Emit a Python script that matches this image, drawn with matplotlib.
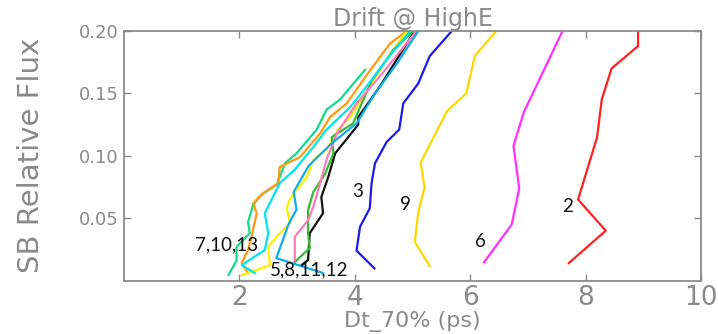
import numpy as np
import matplotlib
matplotlib.use("Agg")
import matplotlib.pyplot as plt

# curve data: (Dt_70% [ps], SB relative flux)
c2_x = [7.71, 8.35, 7.87, 8.20, 8.28, 8.45, 8.91, 8.91]
c2_y = [0.014, 0.040, 0.065, 0.115, 0.145, 0.170, 0.188, 0.200]

c6_x = [6.24, 6.72, 6.85, 6.75, 6.93, 7.60]
c6_y = [0.0146, 0.045, 0.074, 0.108, 0.135, 0.200]

c9_x = [5.30, 5.04, 5.10, 5.21, 5.14, 5.60, 5.93, 6.08, 6.45]
c9_y = [0.0116, 0.031, 0.055, 0.075, 0.0945, 0.136, 0.150, 0.180, 0.200]

c3_x = [4.34, 4.03, 4.09, 4.26, 4.29, 4.35, 4.55, 4.77, 4.84, 5.10, 5.30, 5.68]
c3_y = [0.0098, 0.024, 0.043, 0.058, 0.078, 0.094, 0.111, 0.121, 0.142, 0.158, 0.180, 0.200]

sg_x = [1.81, 1.95, 1.95, 2.18, 2.15, 2.24, 2.39, 2.65, 2.79, 2.99, 3.34, 3.51, 3.74, 4.18]
sg_y = [0.0044, 0.016, 0.027, 0.038, 0.047, 0.061, 0.069, 0.077, 0.094, 0.102, 0.121, 0.137, 0.145, 0.169]

or_x = [2.15, 2.04, 2.15, 2.21, 2.30, 2.24, 2.41, 2.67, 2.70, 3.05, 3.40, 3.57, 3.86, 4.21, 4.61, 4.90]
or_y = [0.006, 0.014, 0.0245, 0.035, 0.054, 0.062, 0.070, 0.078, 0.091, 0.099, 0.118, 0.131, 0.142, 0.165, 0.190, 0.200]

cy_x = [2.27, 2.04, 2.44, 2.50, 2.44, 2.70, 2.96, 3.28, 3.51, 3.92, 4.21, 4.55, 4.96]
cy_y = [0.006, 0.0124, 0.0245, 0.038, 0.054, 0.078, 0.089, 0.107, 0.121, 0.139, 0.156, 0.177, 0.200]

ye_x = [2.04, 2.53, 2.50, 2.70, 2.88, 2.82, 2.88, 3.17, 3.28, 3.51, 3.71, 3.92, 4.26, 4.55, 4.90]
ye_y = [0.0044, 0.0124, 0.027, 0.038, 0.046, 0.058, 0.066, 0.083, 0.097, 0.105, 0.121, 0.131, 0.156, 0.177, 0.200]

db_x = [3.45, 2.64, 2.85, 2.99, 2.94, 3.20, 3.60, 4.03, 4.35, 4.73, 5.10]
db_y = [0.006, 0.018, 0.045, 0.057, 0.071, 0.092, 0.110, 0.126, 0.150, 0.174, 0.200]

pk_x = [2.96, 2.96, 3.19, 3.28, 3.40, 3.51, 3.69, 4.03, 4.44, 5.07]
pk_y = [0.0165, 0.035, 0.0485, 0.059, 0.078, 0.097, 0.118, 0.142, 0.164, 0.200]

gr_x = [2.96, 3.22, 3.19, 3.19, 3.28, 3.48, 3.63, 3.60, 3.97, 4.29, 4.67, 5.01]
gr_y = [0.015, 0.026, 0.038, 0.0565, 0.071, 0.085, 0.102, 0.115, 0.126, 0.160, 0.185, 0.200]

bk_x = [3.08, 3.19, 3.22, 3.45, 3.42, 3.54, 3.66, 4.06, 4.06, 4.44, 5.01]
bk_y = [0.0124, 0.0165, 0.038, 0.054, 0.067, 0.083, 0.102, 0.125, 0.131, 0.156, 0.198]

labels = ["2", "6", "9", "3", "7,10,13", "5,8,11,12"]
label_x = [7.59, 6.08, 4.78, 3.95, 1.23, 2.52]
label_y = [0.059, 0.031, 0.0606, 0.071, 0.0285, 0.0084]


def main():
    gray = "#8a8a8a"
    thin = ["Liberation Sans Narrow", "DejaVu Sans"]

    fig = plt.figure(figsize=(7.18, 3.34), dpi=100)
    ax = fig.add_axes([0.1727, 0.160, 0.8036, 0.747])

    lw = 1.6
    ax.plot(c2_x, c2_y, color="#ff2020", lw=lw)
    ax.plot(c6_x, c6_y, color="#ff30ff", lw=lw)
    ax.plot(c9_x, c9_y, color="#ffd700", lw=lw)
    ax.plot(c3_x, c3_y, color="#1a1aee", lw=lw)
    ax.plot(sg_x, sg_y, color="#10dd88", lw=lw)
    ax.plot(or_x, or_y, color="#ff9a10", lw=lw)
    ax.plot(ye_x, ye_y, color="#ffee00", lw=lw)
    ax.plot(bk_x, bk_y, color="#111111", lw=lw)
    ax.plot(gr_x, gr_y, color="#33bb33", lw=lw)
    ax.plot(pk_x, pk_y, color="#ff7ab8", lw=lw)
    ax.plot(cy_x, cy_y, color="#00e5f0", lw=lw)
    ax.plot(db_x, db_y, color="#10aaee", lw=lw)

    for t, x, y in zip(labels, label_x, label_y):
        ax.text(x, y, t, fontsize=13.5, color="#111111", family=["Lato", "DejaVu Sans"],
                ha="left", va="center")

    ax.set_xlim(0, 10)
    ax.set_ylim(0, 0.20)
    ax.set_xticks([2, 4, 6, 8, 10])
    ax.set_xticklabels(["2", "4", "6", "8", "10"], fontsize=19, color=gray, family=thin)
    ax.set_yticks([0.05, 0.10, 0.15, 0.20])
    ax.set_yticklabels(["0.05", "0.10", "0.15", "0.20"], fontsize=13, color=gray, family=thin)
    ax.tick_params(direction="in", top=True, right=True, length=5, width=1, color=gray)
    ax.tick_params(axis="x", pad=3)
    ax.tick_params(axis="y", pad=4)
    for s in ax.spines.values():
        s.set_color(gray)
        s.set_linewidth(1.3)

    ax.set_title("Drift @ HighE", fontsize=17, color=gray, family=thin, pad=4)
    ax.set_xlabel("Dt_70% (ps)", fontsize=16, color=gray, family=thin, labelpad=0)
    ax.set_ylabel("SB Relative Flux", fontsize=21, color=gray, family=thin, labelpad=24)

    fig.savefig("out.png", dpi=100)

if __name__ == "__main__":
    main()
